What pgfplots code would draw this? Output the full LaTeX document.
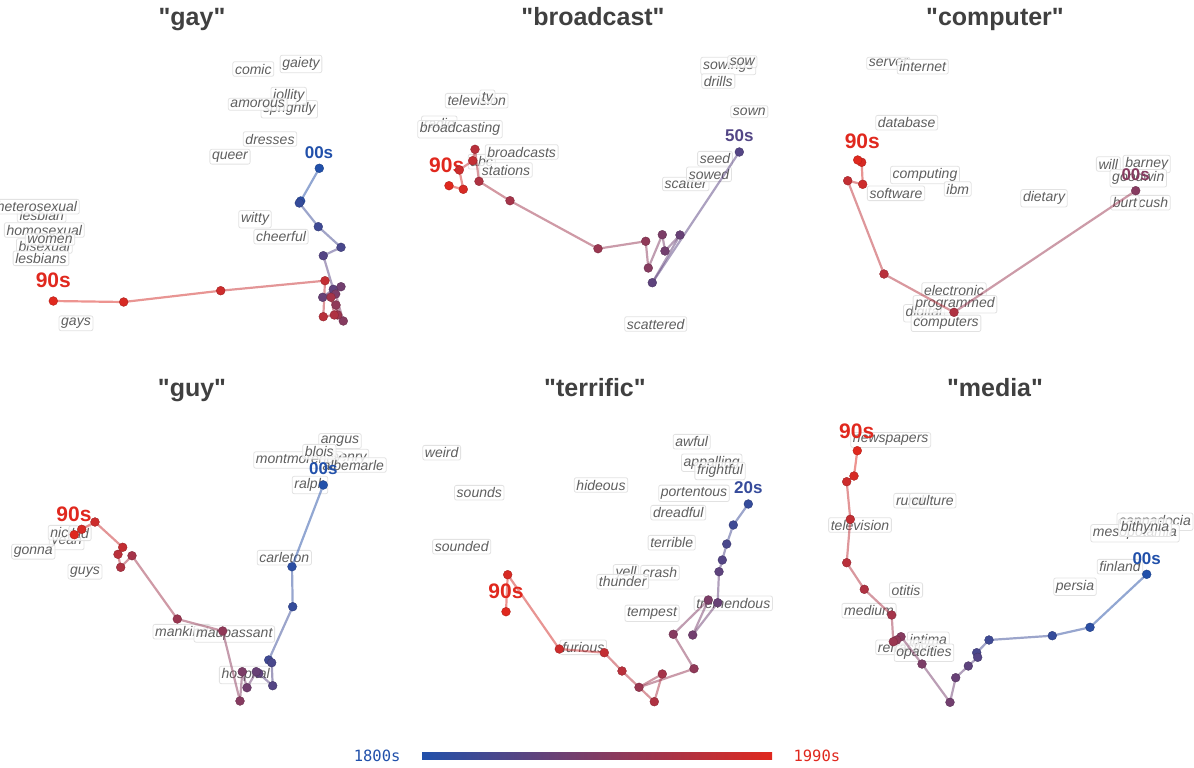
\documentclass[border=0pt]{standalone}
\usepackage{pgfplots}
\pgfplotsset{compat=1.18}
\usepackage{pgfplotstable}
\usepackage{fontspec}
\setmainfont{Liberation Sans}
\setmonofont{DejaVu Sans Mono}
% titles keep straight ASCII quotes
\newfontfamily\titlefont{Liberation Sans}[Ligatures=TeXOff]

\definecolor{early}{RGB}{33,80,170}
\definecolor{late}{RGB}{224,40,30}
\definecolor{titlegray}{RGB}{64,64,64}
\definecolor{wordgray}{RGB}{95,95,95}
\definecolor{boxgray}{RGB}{226,226,226}

% 2-D projections of each word's embedding, one row per decade
\pgfplotstableread{
d x y
1800 319.3 168.3
1810 300.7 201
1820 299.3 203
1830 318.3 226.7
1840 341 247.3
1850 323.3 255.7
1860 333.3 289.3
1870 322.7 297.3
1880 341 286.7
1890 335.7 294
1900 343.3 321
1910 336 305
1920 337.7 315
1930 331 297.3
1940 334.3 315
1950 323.3 316.7
1960 325 280.7
1970 220.7 290.7
1980 123.7 302
1990 53.3 301
}\gaytab

\pgfplotstableread{
d x y
1850 739.3 152
1860 652.3 282.7
1870 680 235
1880 665 251
1890 662.3 234.7
1900 648.3 268
1910 645.7 241.3
1920 598 248.7
1930 510 200.7
1940 479 181.3
1950 475 149.3
1960 472.7 160.7
1970 459.3 170
1980 463.3 189.3
1990 449 185.7
}\broadcasttab

\pgfplotstableread{
d x y
1900 1135.7 190.7
1940 954 312.3
1950 884 274
1960 847.7 180.7
1970 862.7 184.3
1980 861.7 162.3
1990 857.7 160
}\computertab

\pgfplotstableread{
d x y
1800 323.3 485
1810 292 566.7
1820 292.7 606.7
1830 268.7 660
1840 271.7 662.7
1850 272.7 685.7
1860 258.7 673.3
1870 256.3 671.7
1880 247 687.7
1890 242.3 671.7
1900 240 701
1910 222.7 631
1920 177.3 619
1930 132 555.7
1940 120.7 567.3
1950 118 554.3
1960 122.7 547.3
1970 95 522
1980 81.7 529.3
1990 74.3 534.7
}\guytab

\pgfplotstableread{
d x y
1820 748.3 504
1830 733.3 525
1840 726.7 544
1850 722.3 560
1860 719 571.7
1870 717.7 602.7
1880 692.7 635
1890 708.3 600
1900 673.3 634.3
1910 694 668.7
1920 639 687.3
1930 662.3 674
1940 654.3 701.7
1950 622 671
1960 604.3 652.7
1970 559.3 649
1980 507.7 574.7
1990 506 611.7
}\terrifictab

\pgfplotstableread{
d x y
1800 1146.7 574.3
1810 1090 627.3
1820 1052.3 635.7
1830 989 640
1840 976.7 652.7
1850 977.7 657.3
1860 968.3 666
1870 955.7 677.7
1880 950 702.3
1890 922 664
1900 901 636.7
1910 896.7 640
1920 893.3 641.7
1930 891.7 615
1940 864.3 589.3
1950 846.7 562.7
1960 850.3 519.3
1970 846.7 481.7
1980 854 476
1990 857.3 450.7
}\mediatab

% neighbouring word, boxed
\newcommand\w[3]{\node[word] at (axis cs:#1,#2) {#3};}
% trajectory through the decades: faded segments, then solid dots
\newcommand\trajectory[1]{%
  \addplot[mesh, line width=2.2pt, opacity=0.5, point meta=\thisrow{d}] table[x=x,y=y] {#1};
  \addplot[scatter, only marks, mark=*, mark size=4.4pt, point meta=\thisrow{d}] table[x=x,y=y] {#1};
}

\begin{document}
\begin{tikzpicture}[
  word/.style={font=\itshape\fontsize{14}{14}\selectfont, text=wordgray,
    fill=white, fill opacity=0.8, text opacity=1, draw=boxgray,
    rounded corners=2pt, inner sep=2.2pt, line width=0.8pt},
  title/.style={font=\titlefont\bfseries\fontsize{25}{25}\selectfont, text=titlegray, anchor=base},
  decade/.style={font=\bfseries\fontsize{17}{17}\selectfont},
  last/.style={font=\bfseries\fontsize{21}{21}\selectfont, text=late},
]
\begin{axis}[
  hide axis, scale only axis, width=1194pt, height=768pt,
  xmin=0, xmax=1194, ymin=0, ymax=768, y dir=reverse,
  colormap={decades}{rgb255=(33,80,170) rgb255=(224,40,30)},
  point meta min=1800, point meta max=1990,
]
% titles
\node[title] at (axis cs:192,26) {"gay"};
\node[title] at (axis cs:593,26) {"broadcast"};
\node[title] at (axis cs:995,26) {"computer"};
\node[title] at (axis cs:192,396) {"guy"};
\node[title] at (axis cs:595,396) {"terrific"};
\node[title] at (axis cs:995,396) {"media"};

% gay
\w{253.3}{69}{comic}
\w{301}{64}{gaiety}
\w{289.3}{109.3}{sprightly}
\w{288.7}{96}{jollity}
\w{257.7}{104.3}{amorous}
\w{270}{139}{dresses}
\w{230}{156.7}{queer}
\w{41.7}{215}{lesbian}
\w{37}{206.7}{heterosexual}
\w{44.3}{246}{bisexual}
\w{44.3}{230}{homosexual}
\w{50}{239.3}{women}
\w{41}{258.3}{lesbians}
\w{255}{219.3}{witty}
\w{281}{236.7}{cheerful}
\w{76}{323.3}{gays}

% broadcast
\w{728.3}{66}{sowings}
\w{742.3}{61.7}{sow}
\w{718.3}{81}{drills}
\w{749.3}{111.7}{sown}
\w{476.7}{100.7}{television}
\w{487.3}{96.7}{tv}
\w{439.3}{123.3}{radio}
\w{460}{129.3}{broadcasting}
\w{481.7}{161.7}{abc}
\w{521.7}{152}{broadcasts}
\w{506}{170}{stations}
\w{715}{158.7}{seed}
\w{685.7}{184}{scatter}
\w{709}{174.3}{sowed}
\w{655.7}{324}{scattered}

% computer
\w{888.3}{63.3}{server}
\w{922.7}{66.7}{internet}
\w{906.7}{122.7}{database}
\w{925}{175}{computing}
\w{957.7}{189}{ibm}
\w{896}{193.3}{software}
\w{1044}{198.3}{dietary}
\w{1146.7}{164}{barney}
\w{1108.3}{164}{will}
\w{1138.3}{178.3}{goodwin}
\w{1153.3}{202.7}{cush}
\w{1125}{202.7}{burt}
\w{954}{290}{electronic}
\w{924}{313.3}{digital}
\w{955}{304.3}{programmed}
\w{946}{323.3}{computers}

% guy
\w{340}{441}{angus}
\w{349}{458}{henry}
\w{298.3}{460}{montmorency}
\w{353.3}{465}{albemarle}
\w{319.3}{451.7}{blois}
\w{310}{485}{ralph}
\w{284.3}{557.7}{carleton}
\w{66.7}{541}{yeah}
\w{33.3}{551.7}{gonna}
\w{63.3}{532.7}{nice}
\w{80}{533.3}{kid}
\w{85}{571.7}{guys}
\w{181.7}{631.7}{mankind}
\w{234.3}{634}{maupassant}
\w{245.7}{675}{hospital}

% terrific
\w{691.7}{441.7}{awful}
\w{711.7}{462.7}{appalling}
\w{720}{471}{frightful}
\w{601}{485}{hideous}
\w{694}{493.3}{portentous}
\w{678.3}{512.7}{dreadful}
\w{671.7}{542.7}{terrible}
\w{441.7}{452.7}{weird}
\w{479.3}{492.7}{sounds}
\w{461.7}{546.7}{sounded}
\w{626}{573.3}{yell}
\w{660}{572.7}{crash}
\w{622.7}{581.7}{thunder}
\w{652}{613.3}{tempest}
\w{733.3}{603.3}{tremendous}
\w{583.3}{647.3}{furious}

% media
\w{890.7}{440}{newspapers}
\w{910}{500.7}{rural}
\w{932.7}{500.7}{culture}
\w{860}{525}{television}
\w{906}{590}{otitis}
\w{869}{610.7}{medium}
\w{928.3}{639.3}{intima}
\w{906.7}{647.3}{refractive}
\w{924}{652.7}{opacities}
\w{1155}{521.7}{cappadocia}
\w{1135}{533.3}{mesopotamia}
\w{1145}{527.7}{bithynia}
\w{1120}{566.7}{finland}
\w{1075}{586.7}{persia}

% trajectories
\trajectory{\gaytab}
\trajectory{\broadcasttab}
\trajectory{\computertab}
\trajectory{\guytab}
\trajectory{\terrifictab}
\trajectory{\mediatab}

% first and last decade of each trajectory
\node[decade, text=early] at (axis cs:319,152.3) {00s};
\node[last] at (axis cs:53.3,280.7) {90s};
\node[decade, text=late!26!early] at (axis cs:739.3,135.7) {50s};
\node[last] at (axis cs:446.7,165.3) {90s};
\node[decade, text=late!53!early] at (axis cs:1135.7,174.3) {00s};
\node[last] at (axis cs:862.3,141.7) {90s};
\node[decade, text=early] at (axis cs:323.3,468.3) {00s};
\node[last] at (axis cs:74,514.3) {90s};
\node[decade, text=late!11!early] at (axis cs:748.3,487.3) {20s};
\node[last] at (axis cs:506,591.7) {90s};
\node[decade, text=early] at (axis cs:1146.7,558.3) {00s};
\node[last] at (axis cs:856.7,431) {90s};

% decade colour scale
\shade[left color=early, right color=late] (axis cs:422,752) rectangle (axis cs:772,759);
\node[anchor=east, text=early, font=\ttfamily\fontsize{15.5}{15.5}\selectfont] at (axis cs:404,756) {1800s};
\node[anchor=west, text=late, font=\ttfamily\fontsize{15.5}{15.5}\selectfont] at (axis cs:790,756) {1990s};
\end{axis}
\pgfresetboundingbox
\path[use as bounding box] (current axis.south west) rectangle (current axis.north east);
\end{tikzpicture}
\end{document}
